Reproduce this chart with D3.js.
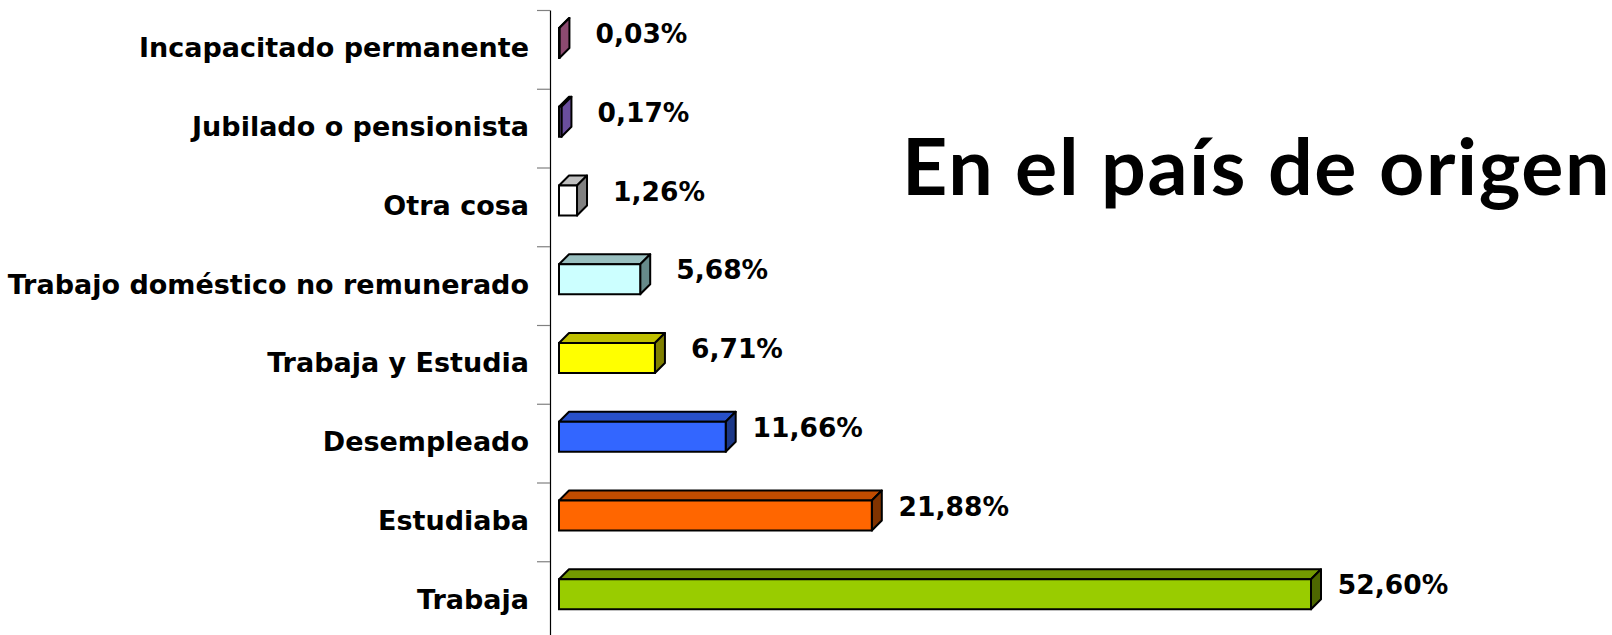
<!DOCTYPE html>
<html>
<head>
<meta charset="utf-8">
<script src="https://cdn.jsdelivr.net/npm/d3@7"></script>
<style>
  body { margin: 0; background: #fff; }
  svg { display: block; }
  text { font-family: "DejaVu Sans", sans-serif; font-weight: bold; fill: #000; }
</style>
</head>
<body>
<script>
// categories top to bottom
var categories = ["Incapacitado permanente", "Jubilado o pensionista", "Otra cosa",
  "Trabajo doméstico no remunerado", "Trabaja y Estudia", "Desempleado", "Estudiaba", "Trabaja"]
var values = [0.03, 0.17, 1.26, 5.68, 6.71, 11.66, 21.88, 52.60]
var frontColors = ["#a05a82", "#7a5cb0", "#ffffff", "#ccffff", "#ffff00", "#3366ff", "#ff6600", "#99cc00"]
var topColors = ["#a86088", "#8064b8", "#c0c0c0", "#99bfbf", "#c0c000", "#2850c8", "#c04c00", "#739900"]
var sideColors = ["#8c4a70", "#6a4e9e", "#808080", "#668a8a", "#808000", "#1c3888", "#803300", "#4d6600"]
var title = "En el país de origen"

var width = 1612, height = 635
var axisX = 550
var depthX = 10, depthY = 10

var svg = d3.select("body").append("svg")
  .attr("width", width)
  .attr("height", height)

var x = d3.scaleLinear().domain([0, 52.6]).range([axisX + 9, 1311])
var yb = d3.scaleBand().domain(categories).range([10, 640])
var yTicks = d3.scaleLinear().domain([0, categories.length]).range([10, 640])

var es = d3.formatLocale({decimal: ",", thousands: ".", grouping: [3], currency: ["", "€"]})
var fmt = es.format(".2f")

// axis with ticks at band boundaries
var axis = svg.append("g")
  .attr("transform", "translate(" + axisX + ",0)")
  .call(d3.axisLeft(yTicks).tickValues(d3.range(0, categories.length + 1))
    .tickSize(13).tickSizeOuter(0).tickFormat(""))
axis.select(".domain").attr("stroke", "#000").attr("stroke-width", 1.2)
axis.selectAll(".tick line").attr("stroke", "#808080").attr("stroke-width", 1.2)

// category labels
svg.append("g").selectAll("text")
  .data(categories)
  .enter()
  .append("text")
  .attr("x", 529)
  .attr("y", function(d) { return yb(d) + yb.bandwidth() / 2 + 8; })
  .attr("text-anchor", "end")
  .style("font-size", "27px")
  .text(function(d) { return d; })

// 3d bars
var data = categories.map(function(c, i) {
  return {cat: c, value: values[i], front: frontColors[i], top: topColors[i], side: sideColors[i]}
})

var bars = svg.append("g").selectAll("g")
  .data(data)
  .enter()
  .append("g")

var barTop = function(d) { return yb(d.cat) + 18; }
var barH = 30

bars.append("path")
  .attr("d", function(d) {
    var x0 = x(0), x1 = x(d.value), y0 = barTop(d)
    return "M" + x0 + "," + y0 + "L" + (x0 + depthX) + "," + (y0 - depthY) +
      "L" + (x1 + depthX) + "," + (y0 - depthY) + "L" + x1 + "," + y0 + "Z"
  })
  .attr("fill", function(d) { return d.top; })
  .attr("stroke", "#000").attr("stroke-width", 2).attr("stroke-linejoin", "round")

bars.append("path")
  .attr("d", function(d) {
    var x1 = x(d.value), y0 = barTop(d)
    return "M" + x1 + "," + y0 + "L" + (x1 + depthX) + "," + (y0 - depthY) +
      "L" + (x1 + depthX) + "," + (y0 - depthY + barH) + "L" + x1 + "," + (y0 + barH) + "Z"
  })
  .attr("fill", function(d) { return d.side; })
  .attr("stroke", "#000").attr("stroke-width", 2).attr("stroke-linejoin", "round")

bars.append("rect")
  .attr("x", x(0))
  .attr("y", barTop)
  .attr("width", function(d) { return x(d.value) - x(0); })
  .attr("height", barH)
  .attr("fill", function(d) { return d.front; })
  .attr("stroke", "#000").attr("stroke-width", 2)

// value labels
bars.append("text")
  .attr("x", function(d) { return x(d.value) + 82; })
  .attr("y", function(d) { return barTop(d) + barH / 2; })
  .attr("text-anchor", "middle")
  .style("font-size", "26.5px")
  .text(function(d) { return fmt(d.value) + "%"; })

// title
svg.append("text")
  .attr("x", 902)
  .attr("y", 195)
  .style("font-family", "Lato, sans-serif")
  .style("font-size", "79px")
  .style("letter-spacing", "1.6px")
  .text(title)
</script>
</body>
</html>
